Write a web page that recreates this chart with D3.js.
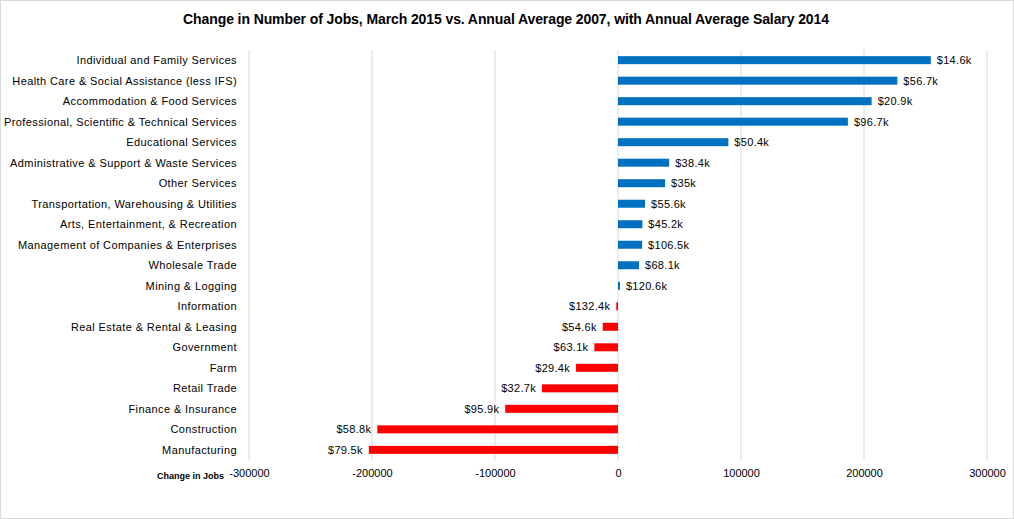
<!DOCTYPE html>
<html>
<head>
<meta charset="utf-8">
<script src="https://cdn.jsdelivr.net/npm/d3@7"></script>
<style>
  body { margin: 0; background: #fff; }
  svg { font-family: "Liberation Sans", Arial, sans-serif; }
  .grid line { stroke: #d9d9d9; }
  .tick text { fill: #000; }
</style>
</head>
<body>
<svg width="1014" height="519"></svg>
<script>
// industries, top to bottom
let industries = [
  "Individual and Family Services",
  "Health Care & Social Assistance (less IFS)",
  "Accommodation & Food Services",
  "Professional, Scientific & Technical Services",
  "Educational Services",
  "Administrative & Support & Waste Services",
  "Other Services",
  "Transportation, Warehousing & Utilities",
  "Arts, Entertainment, & Recreation",
  "Management of Companies & Enterprises",
  "Wholesale Trade",
  "Mining & Logging",
  "Information",
  "Real Estate & Rental & Leasing",
  "Government",
  "Farm",
  "Retail Trade",
  "Finance & Insurance",
  "Construction",
  "Manufacturing"
];
// change in jobs
let jobChange = [254300, 227100, 206200, 186900, 89700, 41600, 38300, 22000, 19800, 19600,
  17100, 1600, -1400, -12400, -19200, -34100, -61800, -91700, -195700, -202600];
// annual average salary 2014
let salaries = ["$14.6k", "$56.7k", "$20.9k", "$96.7k", "$50.4k", "$38.4k", "$35k", "$55.6k", "$45.2k", "$106.5k",
  "$68.1k", "$120.6k", "$132.4k", "$54.6k", "$63.1k", "$29.4k", "$32.7k", "$95.9k", "$58.8k", "$79.5k"];
let xTicks = [-300000, -200000, -100000, 0, 100000, 200000, 300000];

let data = industries.map((name, i) => ({ name: name, value: jobChange[i], salary: salaries[i] }));

let svg = d3.select("svg"),
  width = +svg.attr("width"),
  height = +svg.attr("height");

// chart border
svg.append("rect")
  .attr("x", 0.5).attr("y", 0.5)
  .attr("width", width - 1).attr("height", height - 1)
  .attr("fill", "#fff").attr("stroke", "#d9d9d9");

let plot = { left: 249, right: 987, top: 50, bottom: 460 };

let x = d3.scaleLinear().domain([-300000, 300000]).range([plot.left, plot.right]);
let y = d3.scaleBand().domain(industries).range([plot.top, plot.bottom]).paddingInner(0.61).paddingOuter(0.3);

// title
svg.append("text")
  .attr("x", 506).attr("y", 24)
  .attr("text-anchor", "middle")
  .style("font-size", "14px").style("font-weight", "bold")
  .style("letter-spacing", "-0.1px")
  .text("Change in Number of Jobs, March 2015 vs. Annual Average 2007, with Annual Average Salary 2014");

// vertical gridlines
svg.append("g").attr("class", "grid")
  .selectAll("line").data(xTicks).enter().append("line")
  .attr("x1", d => x(d)).attr("x2", d => x(d))
  .attr("y1", plot.top).attr("y2", plot.bottom);

// x axis labels (plain hyphen for negatives)
let xAxis = svg.append("g")
  .attr("transform", `translate(0,${plot.bottom + 3})`)
  .call(d3.axisBottom(x).tickValues(xTicks).tickFormat(d => String(d)).tickSize(0).tickPadding(6));
xAxis.select(".domain").remove();
xAxis.selectAll("text").style("font-size", "11px").style("font-family", "Liberation Sans, Arial, sans-serif");

svg.append("text")
  .attr("x", 157).attr("y", 479)
  .style("font-size", "9px").style("font-weight", "bold")
  .text("Change in Jobs");

// bars
svg.append("g").selectAll("rect").data(data).enter().append("rect")
  .attr("x", d => x(Math.min(0, d.value)))
  .attr("y", d => y(d.name))
  .attr("width", d => Math.abs(x(d.value) - x(0)))
  .attr("height", y.bandwidth())
  .attr("fill", d => d.value >= 0 ? "#0070c0" : "#ff0000");

// salary labels
svg.append("g").selectAll("text").data(data).enter().append("text")
  .attr("x", d => d.value >= 0 ? x(d.value) + 6 : x(d.value) - 6)
  .attr("y", d => y(d.name) + y.bandwidth() / 2)
  .attr("dy", "0.35em")
  .attr("text-anchor", d => d.value >= 0 ? "start" : "end")
  .style("font-size", "11px")
  .style("letter-spacing", "0.3px")
  .text(d => d.salary);

// category labels
svg.append("g").selectAll("text").data(data).enter().append("text")
  .attr("x", 237)
  .attr("y", d => y(d.name) + y.bandwidth() / 2)
  .attr("dy", "0.35em")
  .attr("text-anchor", "end")
  .style("font-size", "11px")
  .style("letter-spacing", "0.4px")
  .text(d => d.name);
</script>
</body>
</html>
